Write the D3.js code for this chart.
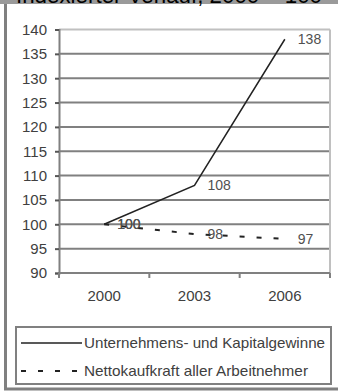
<!DOCTYPE html>
<html>
<head>
<meta charset="utf-8">
<script src="https://cdn.jsdelivr.net/npm/d3@7"></script>
<style>
  body { margin: 0; background: #fff; }
  text { font-family: "Liberation Sans", Arial, sans-serif; }
</style>
</head>
<body>
<div id="wrapper"></div>
<script>
// data
const years = ["2000", "2003", "2006"]
const gewinne = [100, 108, 138]
const kaufkraft = [100, 98, 97]
const yTicks = [90, 95, 100, 105, 110, 115, 120, 125, 130, 135, 140]
const seriesNames = ["Unternehmens- und Kapitalgewinne", "Nettokaufkraft aller Arbeitnehmer"]
const title = "Indexierter Verlauf, 2000 = 100"

function drawChart() {
  let dimensions = {
    width: 338,
    height: 392,
    margin: {
      top: 29.5,
      right: 8,
      bottom: 119,
      left: 59,
    },
  }
  dimensions.boundedWidth = dimensions.width - dimensions.margin.left - dimensions.margin.right
  dimensions.boundedHeight = dimensions.height - dimensions.margin.top - dimensions.margin.bottom

  const wrapper = d3.select("#wrapper")
    .append("svg")
      .attr("width", dimensions.width)
      .attr("height", dimensions.height)

  // title band, cut off at the top like in the source
  wrapper.append("rect")
      .attr("x", 0).attr("y", 0)
      .attr("width", dimensions.width).attr("height", 4)
      .attr("fill", "#9a9a9a")
  wrapper.append("text")
      .attr("x", 16).attr("y", 3)
      .attr("font-size", 22)
      .attr("fill", "#000")
      .attr("textLength", 306)
      .attr("lengthAdjust", "spacingAndGlyphs")
      .text(title)

  // outer frame
  wrapper.append("path")
      .attr("d", "M5.5,4 V389 H338")
      .attr("fill", "none")
      .attr("stroke", "#808080")
      .attr("stroke-width", 3)

  const bounds = wrapper.append("g")
    .attr("transform", `translate(${dimensions.margin.left}, ${dimensions.margin.top})`)

  // scales
  const xScale = d3.scaleBand()
    .domain(years)
    .range([0, dimensions.boundedWidth])

  const yScale = d3.scaleLinear()
    .domain([90, 140])
    .range([dimensions.boundedHeight, 0])

  // gridlines
  bounds.selectAll(".grid")
    .data(yTicks.filter(d => d > 90))
    .enter().append("line")
      .attr("class", "grid")
      .attr("x1", 0)
      .attr("x2", dimensions.boundedWidth)
      .attr("y1", d => yScale(d))
      .attr("y2", d => yScale(d))
      .attr("stroke", d => d == 140 ? "#c0c0c0" : "#808080")
      .attr("stroke-width", 2)

  // right border of plot area
  bounds.append("line")
      .attr("x1", dimensions.boundedWidth).attr("x2", dimensions.boundedWidth)
      .attr("y1", 0).attr("y2", dimensions.boundedHeight)
      .attr("stroke", "#c0c0c0")
      .attr("stroke-width", 2)

  // axes
  const yAxisGenerator = d3.axisLeft()
    .scale(yScale)
    .tickValues(yTicks)
    .tickSize(4)
    .tickPadding(8)

  const yAxis = bounds.append("g")
      .call(yAxisGenerator)
  yAxis.select(".domain").attr("stroke", "#808080").attr("stroke-width", 2)
  yAxis.selectAll(".tick line").attr("stroke", "#555").attr("stroke-width", 2)
  yAxis.selectAll(".tick text")
      .attr("font-size", 15)
      .attr("font-family", "Liberation Sans, Arial, sans-serif")
      .attr("fill", "#404040")

  const xAxis = bounds.append("g")
      .attr("transform", `translate(0, ${dimensions.boundedHeight})`)
  xAxis.append("line")
      .attr("x1", 0).attr("x2", dimensions.boundedWidth)
      .attr("stroke", "#808080").attr("stroke-width", 2)
  const boundaries = years.map(d => xScale(d)).concat([dimensions.boundedWidth])
  xAxis.selectAll(".xtick")
    .data(boundaries)
    .enter().append("line")
      .attr("class", "xtick")
      .attr("x1", d => d).attr("x2", d => d)
      .attr("y1", 0).attr("y2", 5)
      .attr("stroke", "#808080").attr("stroke-width", 2)
  xAxis.selectAll(".xlabel")
    .data(years)
    .enter().append("text")
      .attr("class", "xlabel")
      .attr("x", d => xScale(d) + xScale.bandwidth() / 2)
      .attr("y", 28)
      .attr("text-anchor", "middle")
      .attr("font-size", 15)
      .attr("fill", "#404040")
      .text(d => d)

  // lines
  const xAccessor = (d, i) => xScale(years[i]) + xScale.bandwidth() / 2
  const lineGenerator = d3.line()
    .x(xAccessor)
    .y(d => yScale(d))

  const series = [
    { values: gewinne, dash: null },
    { values: kaufkraft, dash: "5,12" },
  ]

  series.forEach(s => {
    bounds.append("path")
        .attr("d", lineGenerator(s.values))
        .attr("fill", "none")
        .attr("stroke", "#222")
        .attr("stroke-width", s.dash ? 2 : 1.5)
        .attr("stroke-dasharray", s.dash)

    bounds.selectAll(null)
      .data(s.values)
      .enter().append("text")
        .attr("x", (d, i) => xAccessor(d, i) + 13)
        .attr("y", d => yScale(d))
        .attr("dy", "0.35em")
        .attr("font-size", 14)
        .attr("fill", "#505050")
        .text(d => d)
  })

  // legend
  const legend = wrapper.append("g")
  legend.append("rect")
      .attr("x", 16).attr("y", 327)
      .attr("width", 315).attr("height", 57)
      .attr("fill", "none")
      .attr("stroke", "#808080")
      .attr("stroke-width", 2)

  const legendRows = legend.selectAll(".legend-row")
    .data(seriesNames)
    .enter().append("g")
      .attr("class", "legend-row")
      .attr("transform", (d, i) => `translate(21, ${343 + i * 28})`)

  legendRows.append("line")
      .attr("x1", 0).attr("x2", 61)
      .attr("stroke", "#222")
      .attr("stroke-width", (d, i) => i ? 2 : 1.5)
      .attr("stroke-dasharray", (d, i) => series[i].dash)

  legendRows.append("text")
      .attr("x", 63)
      .attr("dy", "0.35em")
      .attr("font-size", 15)
      .attr("fill", "#404040")
      .attr("textLength", (d, i) => i ? 224 : 241)
      .attr("lengthAdjust", "spacingAndGlyphs")
      .text(d => d)
}
drawChart()
</script>
</body>
</html>
